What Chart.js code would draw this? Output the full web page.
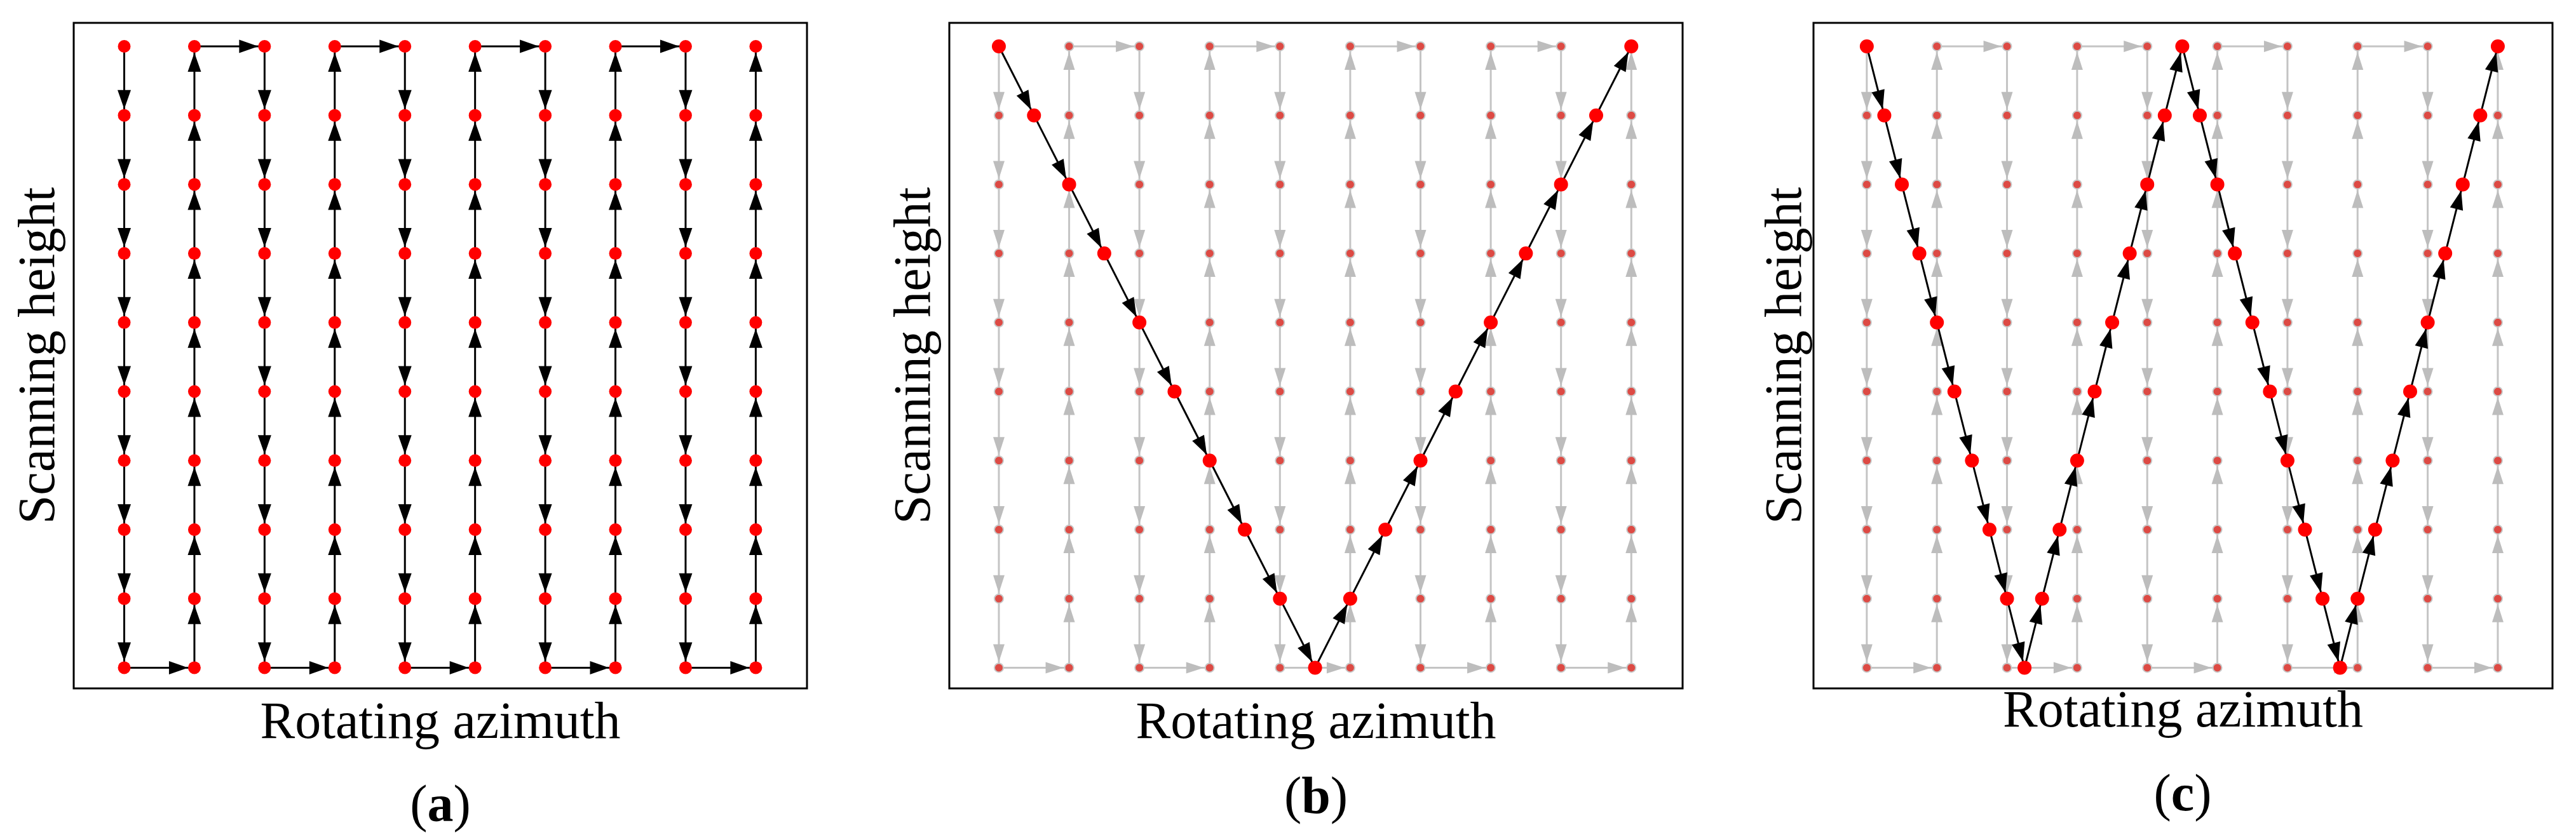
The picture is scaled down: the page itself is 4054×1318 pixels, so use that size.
<!DOCTYPE html>
<html>
<head>
<meta charset="utf-8">
<script src="https://cdn.jsdelivr.net/npm/chart.js@4.4.1/dist/chart.umd.min.js"></script>
<style>
  body { margin: 0; background: #fff; }
  #page { position: relative; width: 4054px; height: 1318px; background: #fff; }
  canvas { position: absolute; }
  .cap { position: absolute; font-family: "Liberation Serif", serif; font-size: 82px; line-height: 1; transform: translate(-50%, -50%); }
</style>
</head>
<body>
<div id="page">
  <canvas id="ca"></canvas>
  <canvas id="cb"></canvas>
  <canvas id="cc"></canvas>
  <div class="cap" style="left:693px;top:1266px">(<b>a</b>)</div>
  <div class="cap" style="left:2071px;top:1253px">(<b>b</b>)</div>
  <div class="cap" style="left:3435px;top:1249px">(<b>c</b>)</div>
</div>
<script>
// grid of scan positions
const columns = [0, 1, 2, 3, 4, 5, 6, 7, 8, 9];
const rows = [0, 1, 2, 3, 4, 5, 6, 7, 8, 9];

// panel (b): V-shaped path
const vX = [0, 0.5, 1, 1.5, 2, 2.5, 3, 3.5, 4, 4.5, 5, 5.5, 6, 6.5, 7, 7.5, 8, 8.5, 9];
const vY = [9, 8, 7, 6, 5, 4, 3, 2, 1, 0, 1, 2, 3, 4, 5, 6, 7, 8, 9];

// panel (c): W-shaped path
const wX = [0, 0.25, 0.5, 0.75, 1, 1.25, 1.5, 1.75, 2, 2.25,
            2.5, 2.75, 3, 3.25, 3.5, 3.75, 4, 4.25, 4.5,
            4.75, 5, 5.25, 5.5, 5.75, 6, 6.25, 6.5, 6.75,
            7, 7.25, 7.5, 7.75, 8, 8.25, 8.5, 8.75, 9];
const wY = [9, 8, 7, 6, 5, 4, 3, 2, 1, 0,
            1, 2, 3, 4, 5, 6, 7, 8, 9,
            8, 7, 6, 5, 4, 3, 2, 1, 0,
            1, 2, 3, 4, 5, 6, 7, 8, 9];

const AXIS_X = 'Rotating azimuth';
const AXIS_Y = 'Scanning height';

// serpentine order: down column 0, up column 1, ...
function serpentine() {
    const pts = [];
    columns.forEach((c, i) => {
        const ys = i % 2 === 0 ? rows.slice().reverse() : rows.slice();
        ys.forEach((r) => pts.push({ x: c, y: r }));
    });
    return pts;
}

const arrowPlugin = {
    id: 'arrows',
    afterDatasetDraw(chart, args) {
        const ds = chart.data.datasets[args.index];
        if (!ds.arrow) return;
        const ctx = chart.ctx;
        const pts = args.meta.data;
        ctx.save();
        ctx.fillStyle = ds.arrow.color;
        for (let i = 1; i < pts.length; i++) {
            const a = pts[i - 1], b = pts[i];
            const dx = b.x - a.x, dy = b.y - a.y;
            const len = Math.hypot(dx, dy);
            const ux = dx / len, uy = dy / len;
            const tx = b.x - ux * ds.arrow.gap, ty = b.y - uy * ds.arrow.gap;
            const bx = tx - ux * ds.arrow.len, by = ty - uy * ds.arrow.len;
            const w = ds.arrow.width / 2;
            ctx.beginPath();
            ctx.moveTo(tx, ty);
            ctx.lineTo(bx - uy * w, by + ux * w);
            ctx.lineTo(bx + uy * w, by - ux * w);
            ctx.closePath();
            ctx.fill();
        }
        ctx.restore();
    },
    afterDraw(chart) {
        const { ctx, chartArea: ca } = chart;
        ctx.save();
        ctx.strokeStyle = '#000';
        ctx.lineWidth = 3;
        ctx.strokeRect(ca.left, ca.top, ca.right - ca.left, ca.bottom - ca.top);
        ctx.restore();
    }
};

function makePanel(id, box, datasets) {
    const el = document.getElementById(id);
    el.style.left = box.left + 'px';
    el.style.top = '0px';
    el.width = box.width;
    el.height = 1200;
    el.style.width = box.width + 'px';
    el.style.height = '1200px';
    const font = { family: '"Liberation Serif", serif', size: 82 };
    return new Chart(el, {
        type: 'scatter',
        data: { datasets },
        plugins: [arrowPlugin],
        options: {
            responsive: false,
            animation: false,
            events: [],
            layout: { padding: { top: 36, left: 14, right: 20, bottom: box.padBottom } },
            plugins: { legend: { display: false }, tooltip: { enabled: false } },
            scales: {
                x: {
                    type: 'linear', min: box.xmin, max: box.xmax,
                    grid: { display: false }, border: { display: false },
                    ticks: { display: false },
                    title: { display: true, text: AXIS_X, color: '#000', font, padding: 0 },
                    afterFit(s) { s.height = box.xh; }
                },
                y: {
                    type: 'linear', min: -0.3, max: 9.34,
                    grid: { display: false }, border: { display: false },
                    ticks: { display: false },
                    title: { display: true, text: AXIS_Y, color: '#000', font, padding: 0 },
                    afterFit(s) { s.width = box.yw; }
                }
            }
        }
    });
}

const serp = serpentine();

const blackArrow = { color: '#000', len: 30, width: 21, gap: 10 };
const greyArrow = { color: '#bdbdbd', len: 28, width: 18, gap: 9 };

function bgSerp(arrow, bright) {
    return {
        data: serp, showLine: true,
        borderColor: bright ? '#000' : '#c4c4c4', borderWidth: 3,
        pointRadius: bright ? 10 : 7,
        pointBackgroundColor: bright ? '#ff0000' : '#dd4a44',
        pointBorderColor: bright ? '#ff0000' : '#c8c8c8',
        pointBorderWidth: bright ? 0 : 2,
        arrow
    };
}

function path(xs, ys) {
    return {
        data: xs.map((x, i) => ({ x, y: ys[i] })), showLine: true,
        borderColor: '#000', borderWidth: 3,
        pointRadius: 11, pointBackgroundColor: '#ff0000', pointBorderWidth: 0,
        arrow: blackArrow
    };
}

makePanel('ca', { left: 0, width: 1290, xmin: -0.72, xmax: 9.73, yw: 102, xh: 106, padBottom: 10 },
    [bgSerp(blackArrow, true)]);
makePanel('cb', { left: 1378, width: 1290, xmin: -0.705, xmax: 9.73, yw: 102, xh: 106, padBottom: 10 },
    [path(vX, vY), bgSerp(greyArrow, false)]);
makePanel('cc', { left: 2749, width: 1288, xmin: -0.76, xmax: 9.78, yw: 91, xh: 88, padBottom: 28 },
    [path(wX, wY), bgSerp(greyArrow, false)]);
</script>
</body>
</html>
